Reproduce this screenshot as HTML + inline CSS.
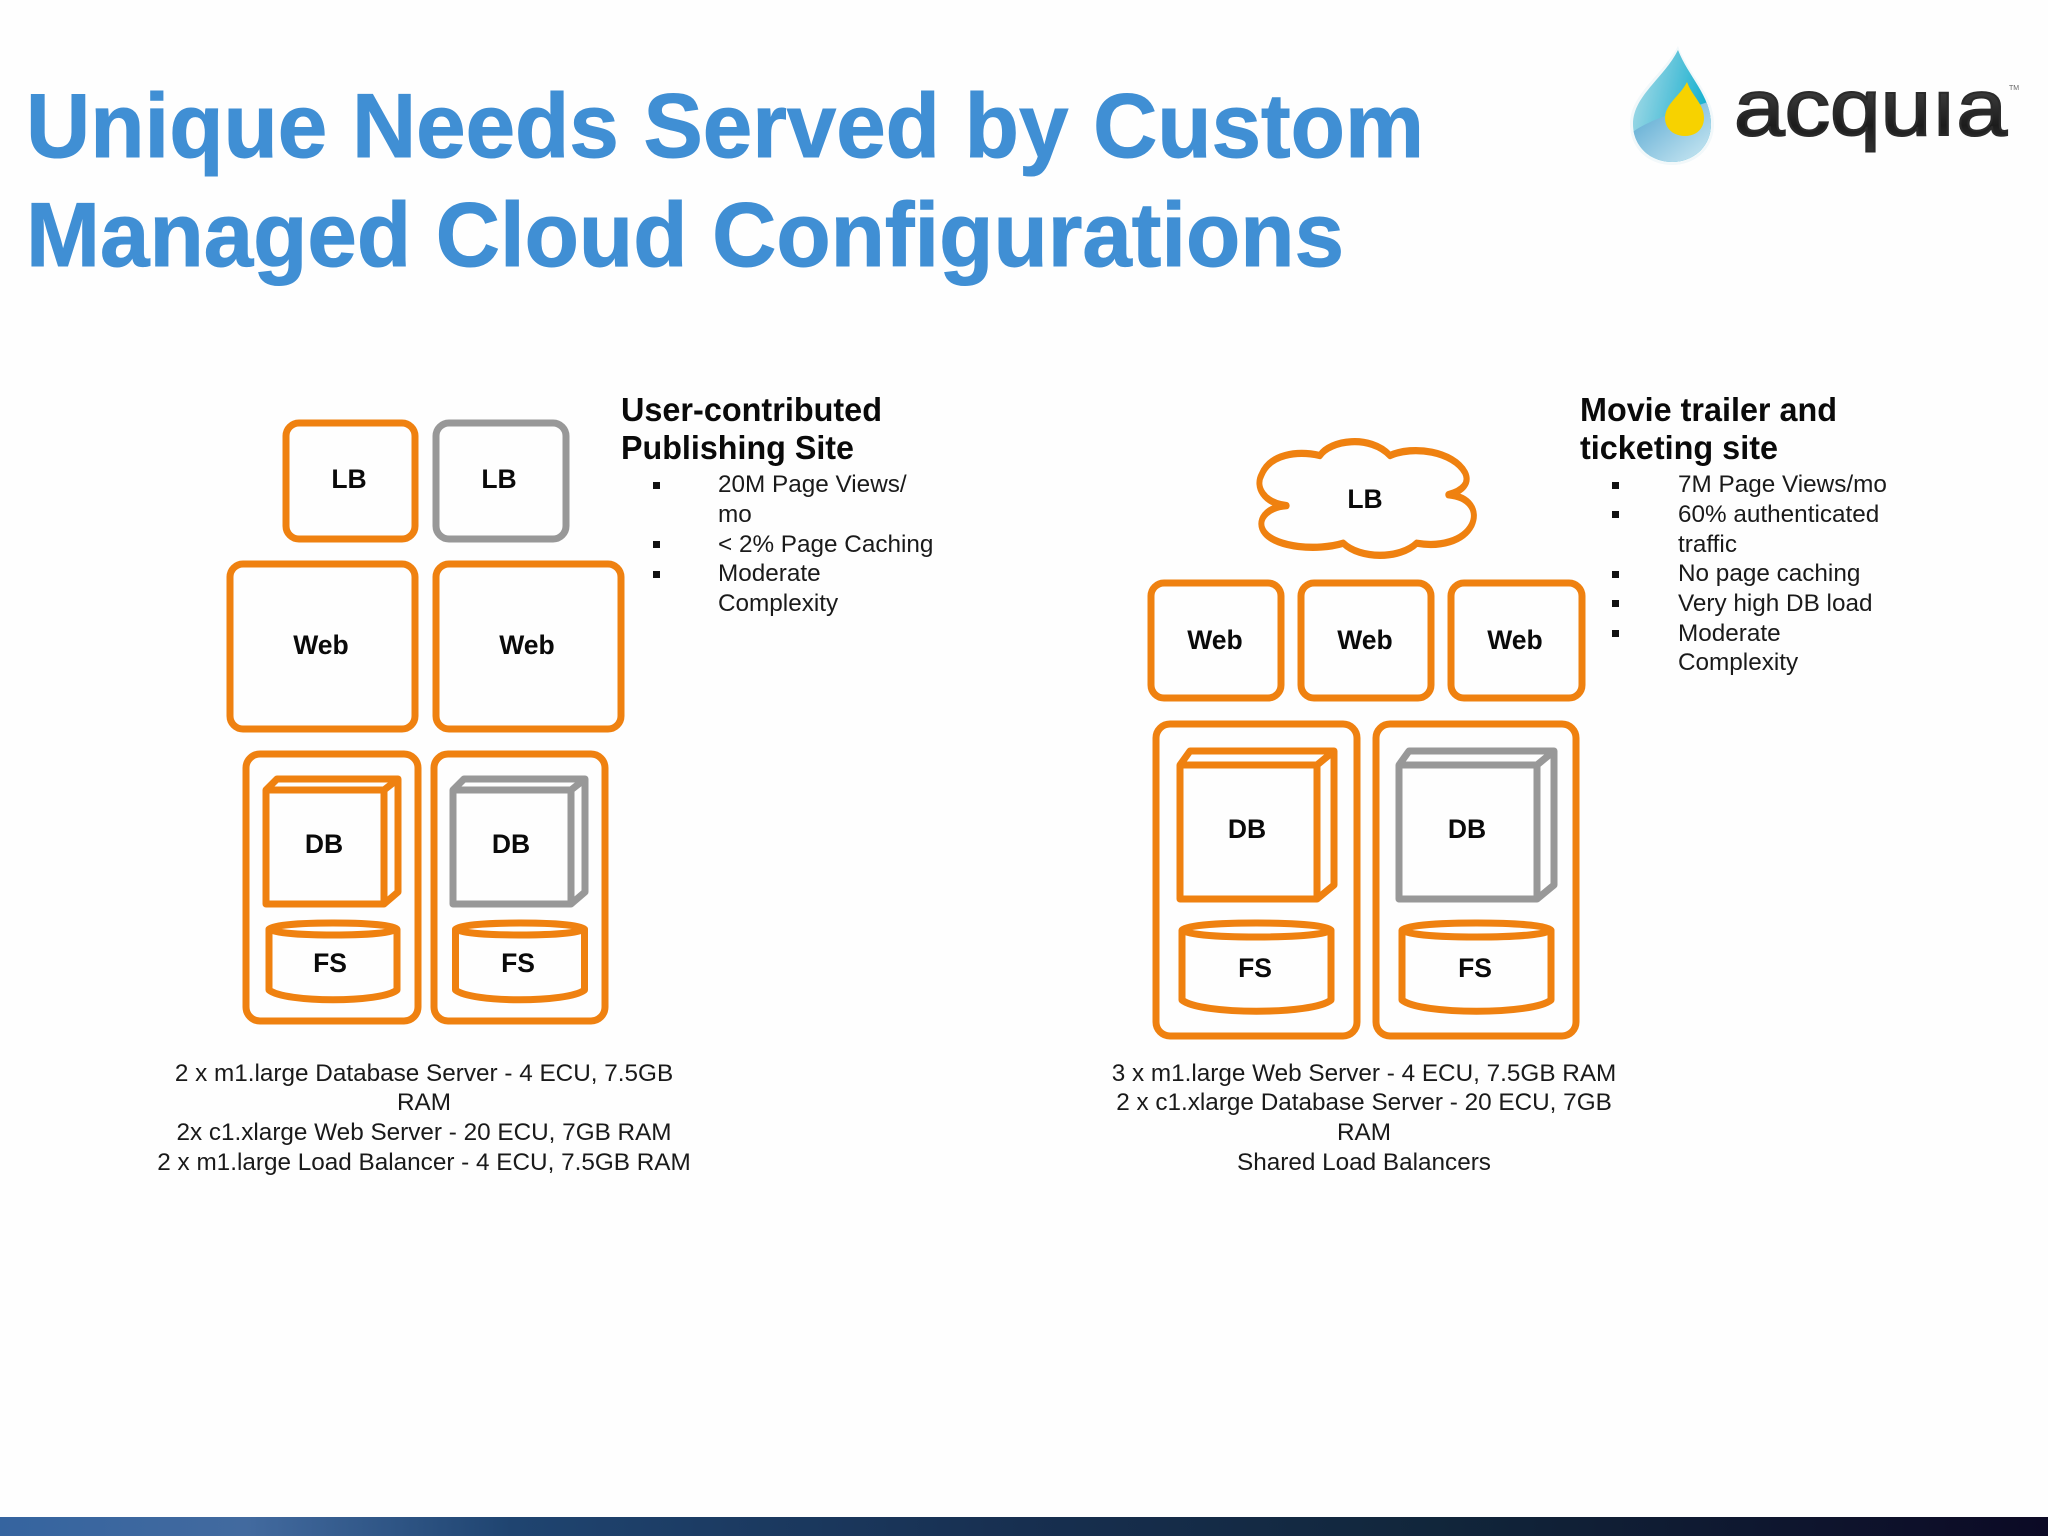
<!DOCTYPE html>
<html>
<head>
<meta charset="utf-8">
<style>
html,body{margin:0;padding:0;background:#fefefe;width:2048px;height:1536px;overflow:hidden}
svg{display:block}
text{font-family:"Liberation Sans",Arial,sans-serif}
.t{font-size:91px;font-weight:700;fill:#408fd4;stroke:#408fd4;stroke-width:1}
.h{font-size:33px;font-weight:700;fill:#0a0a0a}
.b{font-size:24.3px;fill:#1a1a1a}
.c{font-size:24.3px;fill:#1a1a1a;text-anchor:middle}
.l{font-size:26.5px;font-weight:700;fill:#0a0a0a;text-anchor:middle}
.o,.g{fill:none;stroke-width:7;stroke-linejoin:round}
.o{stroke:#ef8110}
.g{stroke:#989898}
</style>
</head>
<body>
<svg width="2048" height="1536" viewBox="0 0 2048 1536" xmlns="http://www.w3.org/2000/svg">
<defs>
<linearGradient id="bar" x1="0" x2="1" y1="0" y2="0">
<stop offset="0" stop-color="#35649f"/>
<stop offset=".12" stop-color="#426a9f"/>
<stop offset=".25" stop-color="#1f4470"/>
<stop offset=".5" stop-color="#172f50"/>
<stop offset=".7" stop-color="#11263b"/>
<stop offset="1" stop-color="#0c0a25"/>
</linearGradient>
<linearGradient id="ink" x1="0" x2="0" y1="0" y2="1">
<stop offset="0" stop-color="#555"/>
<stop offset=".7" stop-color="#1c1c1c"/>
<stop offset="1" stop-color="#333"/>
</linearGradient>
<linearGradient id="d1" x1="0" x2="1" y1="0" y2="0.3">
<stop offset="0" stop-color="#b5e0ea"/>
<stop offset=".55" stop-color="#5cc3da"/>
<stop offset="1" stop-color="#0fb0cf"/>
</linearGradient>
<linearGradient id="d2" x1="0" x2="1" y1="0" y2="1">
<stop offset="0" stop-color="#4fa3cf"/>
<stop offset="1" stop-color="#d4edf5"/>
</linearGradient>
<clipPath id="dc"><path d="M1678 50C1688 76 1711 96 1711 124C1711 147 1693 162 1672 162C1651 162 1633 147 1633 124C1633 96 1664 78 1678 50Z"/></clipPath>
</defs>

<text class="t" x="26" y="157" textLength="1398" lengthAdjust="spacingAndGlyphs">Unique Needs Served by Custom</text>
<text class="t" x="26" y="266" textLength="1318" lengthAdjust="spacingAndGlyphs">Managed Cloud Configurations</text>

<!-- logo -->
<path d="M1678 46C1688 74 1714 94 1714 124C1714 149 1695 165 1672 165C1649 165 1630 149 1630 124C1630 94 1662 76 1678 46Z" fill="#f2f8fa"/>
<g clip-path="url(#dc)">
<rect x="1630" y="46" width="84" height="120" fill="url(#d1)"/>
<path d="M1630 134C1650 118 1680 112 1714 100V166H1630Z" fill="url(#d2)"/>
</g>
<path d="M1687 82C1692 96 1704 104 1704 118C1704 129 1696 136 1685 136C1674 136 1665 129 1665 118C1665 104 1680 96 1687 82Z" fill="#f7d200"/>
<text x="1734" y="135" font-size="80" textLength="273" lengthAdjust="spacingAndGlyphs" fill="url(#ink)" stroke="#2a2a2a" stroke-width="2">acquıa</text>
<text x="2009" y="90" font-size="7" fill="#666">TM</text>

<!-- left diagram -->
<rect class="o" x="286" y="423" width="129" height="116" rx="13"/>
<rect class="g" x="436" y="423" width="130" height="116" rx="13"/>
<rect class="o" x="230" y="564" width="185" height="165" rx="13"/>
<rect class="o" x="436" y="564" width="185" height="165" rx="13"/>
<rect class="o" x="246" y="754" width="172" height="267" rx="14"/>
<rect class="o" x="434" y="754" width="171" height="267" rx="14"/>

<path class="o" d="M266 790H384V904H266ZM266 790L277 779H398V892L384 904M384 790L398 779"/>
<path class="g" d="M453 790H571V904H453ZM453 790L464 779H585V892L571 904M571 790L585 779"/>

<ellipse class="o" cx="333" cy="929" rx="64" ry="6"/>
<path class="o" d="M269 929V990C285 1003 381 1003 397 990V929"/>
<ellipse class="o" cx="520" cy="929" rx="64.500" ry="6"/>
<path class="o" d="M455.500 929V990C471 1003 568 1003 584.500 990V929"/>

<text class="l" x="349" y="488">LB</text>
<text class="l" x="499" y="488">LB</text>
<text class="l" x="321" y="654">Web</text>
<text class="l" x="527" y="654">Web</text>
<text class="l" x="324" y="853">DB</text>
<text class="l" x="511" y="853">DB</text>
<text class="l" x="330" y="972">FS</text>
<text class="l" x="518" y="972">FS</text>

<text class="h" x="621" y="421" textLength="261" lengthAdjust="spacingAndGlyphs">User-contributed</text>
<text class="h" x="621" y="459" textLength="233" lengthAdjust="spacingAndGlyphs">Publishing Site</text>
<rect x="653" y="482" width="7" height="7" fill="#111"/>
<rect x="653" y="541" width="7" height="7" fill="#111"/>
<rect x="653" y="571" width="7" height="7" fill="#111"/>
<text class="b" x="718" y="492">20M Page Views/</text>
<text class="b" x="718" y="522">mo</text>
<text class="b" x="718" y="552">&lt; 2% Page Caching</text>
<text class="b" x="718" y="581">Moderate</text>
<text class="b" x="718" y="611">Complexity</text>

<text class="c" x="424" y="1081">2 x m1.large Database Server - 4 ECU, 7.5GB</text>
<text class="c" x="424" y="1110">RAM</text>
<text class="c" x="424" y="1140">2x c1.xlarge Web Server - 20 ECU, 7GB RAM</text>
<text class="c" x="424" y="1170">2 x m1.large Load Balancer - 4 ECU, 7.5GB RAM</text>

<!-- right diagram -->
<path class="o" transform="translate(1130 420) scale(.3333 .4039)" style="stroke-width:18" d="M470 212C400 205 375 165 395 135C420 85 500 75 570 88C600 50 720 35 780 88C850 62 970 78 1005 130C1020 155 1000 175 955 185C1020 190 1045 225 1025 260C1000 300 930 315 860 305C810 345 690 345 640 305C560 325 440 315 405 280C375 250 410 215 470 212Z"/>
<rect class="o" x="1151" y="583" width="130" height="115" rx="13"/>
<rect class="o" x="1301" y="583" width="130" height="115" rx="13"/>
<rect class="o" x="1451" y="583" width="131" height="115" rx="13"/>
<rect class="o" x="1156" y="724" width="201" height="312" rx="14"/>
<rect class="o" x="1376" y="724" width="200" height="312" rx="14"/>

<path class="o" d="M1180 765H1317V899H1180ZM1180 765L1190 751H1334V885L1317 899M1317 765L1334 751"/>
<path class="g" d="M1399 765H1537V899H1399ZM1399 765L1409 751H1554V885L1537 899M1537 765L1554 751"/>

<ellipse class="o" cx="1256.500" cy="930" rx="74.500" ry="7"/>
<path class="o" d="M1182 930V1000C1200 1015 1313 1015 1331 1000V930"/>
<ellipse class="o" cx="1476.500" cy="930" rx="74.500" ry="7"/>
<path class="o" d="M1402 930V1000C1420 1015 1533 1015 1551 1000V930"/>

<text class="l" x="1365" y="508">LB</text>
<text class="l" x="1215" y="649">Web</text>
<text class="l" x="1365" y="649">Web</text>
<text class="l" x="1515" y="649">Web</text>
<text class="l" x="1247" y="838">DB</text>
<text class="l" x="1467" y="838">DB</text>
<text class="l" x="1255" y="977">FS</text>
<text class="l" x="1475" y="977">FS</text>

<text class="h" x="1580" y="421" textLength="257" lengthAdjust="spacingAndGlyphs">Movie trailer and</text>
<text class="h" x="1580" y="459" textLength="198" lengthAdjust="spacingAndGlyphs">ticketing site</text>
<rect x="1612" y="482" width="7" height="7" fill="#111"/>
<rect x="1612" y="511" width="7" height="7" fill="#111"/>
<rect x="1612" y="571" width="7" height="7" fill="#111"/>
<rect x="1612" y="600" width="7" height="7" fill="#111"/>
<rect x="1612" y="630" width="7" height="7" fill="#111"/>
<text class="b" x="1678" y="492">7M Page Views/mo</text>
<text class="b" x="1678" y="522">60% authenticated</text>
<text class="b" x="1678" y="552">traffic</text>
<text class="b" x="1678" y="581">No page caching</text>
<text class="b" x="1678" y="611">Very high DB load</text>
<text class="b" x="1678" y="641">Moderate</text>
<text class="b" x="1678" y="670">Complexity</text>

<text class="c" x="1364" y="1081">3 x m1.large Web Server - 4 ECU, 7.5GB RAM</text>
<text class="c" x="1364" y="1110">2 x c1.xlarge Database Server - 20 ECU, 7GB</text>
<text class="c" x="1364" y="1140">RAM</text>
<text class="c" x="1364" y="1170">Shared Load Balancers</text>

<rect x="0" y="1517" width="2048" height="19" fill="url(#bar)"/>
</svg>
</body>
</html>
